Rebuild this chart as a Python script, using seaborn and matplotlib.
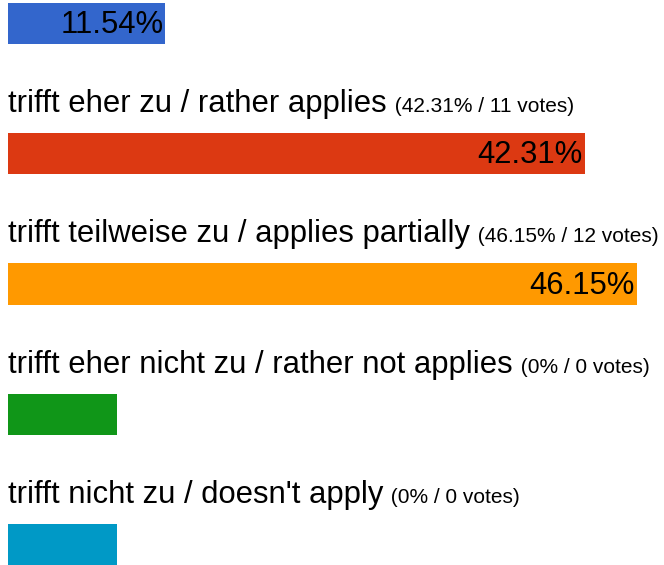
import matplotlib
matplotlib.use("Agg")
import matplotlib.pyplot as plt
import numpy as np
import pandas as pd
import seaborn as sns

# poll results (first item is cut off at the top of the screenshot)
labels = ['trifft zu / applies',
          'trifft eher zu / rather applies',
          'trifft teilweise zu / applies partially',
          'trifft eher nicht zu / rather not applies',
          "trifft nicht zu / doesn't apply"]
percents = [11.54, 42.31, 46.15, 0.0, 0.0]
votes = [3, 11, 12, 0, 0]
colors = ['#3366CC', '#DC3912', '#FF9900', '#109618', '#0099C6']

# empty answers still get a small stub bar
min_width = 8.0

df = pd.DataFrame({'label': labels, 'pct': percents, 'votes': votes})
df['shown'] = np.maximum(df['pct'], min_width)

sns.set_style('white')
plt.rcParams['font.family'] = ['Liberation Sans', 'DejaVu Sans']

fig = plt.figure(figsize=(6.64, 5.65), dpi=100)
ax = fig.add_axes([8 / 664, 0, 656 / 664, 1])

sns.barplot(data=df, x='shown', y='label', hue='label', palette=colors,
            orient='h', width=0.315, legend=False, saturation=1,
            linewidth=0, ax=ax)

px = 13.63  # pixels per percent
ax.set_xlim(0, 656 / px)
ax.set_ylim(4.157, -0.180)
ax.axis('off')

for i, row in df.iterrows():
    y_lab = i - 0.319
    if y_lab < -0.180:
        continue  # label scrolled out of view in the screenshot
    t = ax.text(0, y_lab, row['label'], fontsize=22.3, va='baseline',
                ha='left', color='black')
    pct_txt = ('%.2f' % row['pct']) if row['pct'] else '0'
    ax.annotate(' (%s%% / %d votes)' % (pct_txt, row['votes']),
                xy=(1, y_lab), xycoords=(t, 'data'),
                xytext=(2, 0), textcoords='offset pixels',
                va='baseline', ha='left',
                fontsize=15.0, color='black', annotation_clip=False)

for i, row in df.iterrows():
    if row['pct'] > 0:
        ax.text(row['pct'] - 2 / px, i + 0.012, '%.2f%%' % row['pct'],
                fontsize=22.3, va='center', ha='right', color='black')

fig.savefig('out.png', dpi=100)
